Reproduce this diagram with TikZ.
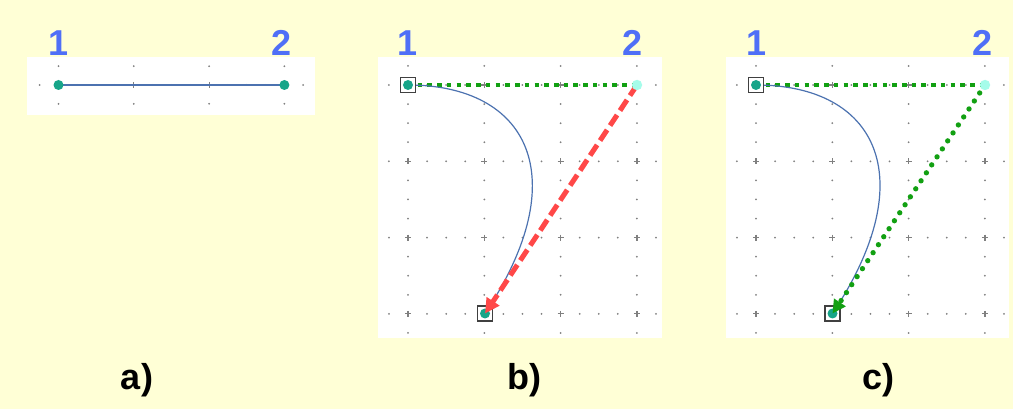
\documentclass[tikz,border=0pt]{standalone}
\usepackage{fontspec}
\setmainfont{Liberation Sans}
\usetikzlibrary{arrows.meta}
\definecolor{pagebg}{HTML}{FFFFD6}
\definecolor{ptteal}{HTML}{17A589}
\definecolor{ptcyan}{HTML}{A6FCEA}
\definecolor{curveblue}{HTML}{4C72B0}
\definecolor{tangreen}{HTML}{12A012}
\definecolor{tanred}{HTML}{FF4848}
\definecolor{lblblue}{HTML}{4F6FF7}
\definecolor{gridgray}{HTML}{808080}

\newcommand{\dotgrid}[4]{%
  \pgfmathtruncatemacro{\vlast}{4*#4+1}%
  \foreach \i in {0,...,3}{%
    \foreach \m in {-1,...,\vlast}{%
      \pgfmathtruncatemacro{\gridrem}{mod(\m+4,4)}%
      \ifnum\gridrem=0
        \draw[gridplus] ({#1+\i*#3},{#2+\m*#3/4}) +(-3,0) -- +(3,0) +(0,-3) -- +(0,3);
      \else
        \fill[gridgray] ({#1+\i*#3},{#2+\m*#3/4}) circle (0.75pt);
      \fi}}%
  \foreach \j in {0,...,#4}{%
    \foreach \m in {-1,...,13}{%
      \pgfmathtruncatemacro{\gridrem}{mod(\m+4,4)}%
      \ifnum\gridrem>0
        \fill[gridgray] ({#1+\m*#3/4},{#2+\j*#3}) circle (0.75pt);
      \fi}}}

\begin{document}
\begin{tikzpicture}[
  x=0.75pt, y=-0.75pt,
  panel/.style={fill=white},
  gridplus/.style={draw=gridgray, line width=0.9pt},
  anchorpt/.style={circle, fill=ptteal, inner sep=0pt, minimum size=7.5pt},
  ctrlpt/.style={circle, fill=ptcyan, inner sep=0pt, minimum size=7.8pt},
  selbox/.style={draw=black!75, fill=white, line width=1.4pt, inner sep=0pt, minimum size=11.2pt},
  curve/.style={draw=curveblue, line width=0.9pt},
  handle/.style={draw=tangreen, line width=3.6pt, dash pattern=on 3.4pt off 3.9pt},
  redtan/.style={draw=tanred, line width=3.8pt, dash pattern=on 9.5pt off 4pt, -{Triangle[length=11pt,width=11pt]}},
  greentan/.style={draw=tangreen, line width=4pt, line cap=round, dash pattern=on 0pt off 7.2pt, -{Triangle[length=10pt,width=10pt]}},
  numlbl/.style={text=lblblue, font=\fontsize{27}{30}\selectfont\bfseries, inner sep=0pt},
  caplbl/.style={font=\fontsize{27}{30}\selectfont\bfseries, inner sep=0pt}
]
\fill[pagebg] (0,0) rectangle (1013,409);
\fill[panel] (27,57) rectangle (315,115);
\fill[panel] (378,57) rectangle (662,338);
\fill[panel] (726,57) rectangle (1009,338);

\dotgrid{58.5}{85}{75.3}{0}
\dotgrid{408}{85}{76.3}{3}
\dotgrid{756}{85}{76.3}{3}

\coordinate (a1) at (58.5,85);
\coordinate (a2) at (284.4,85);
\coordinate (b1) at (408,85);
\coordinate (b2) at (637,85);
\coordinate (b3) at (485,313.5);
\coordinate (c1) at (756,85);
\coordinate (c2) at (985,85);
\coordinate (c3) at (832.5,313.5);

% a)
\draw[curve, line width=1.3pt] (a1) -- (a2);
\node[anchorpt] (a1dot) at (a1) {};
\node[anchorpt] (a2dot) at (a2) {};

% b)
\draw[handle] (b1) -- (b2);
\draw[curve] (b1) .. controls +(120,0) and +(91,-137) .. (b3);
\node[selbox] (b1box) at (b1) {};
\node[anchorpt] (b1dot) at (b1) {};
\node[selbox] (b3box) at (b3) {};
\node[anchorpt] (b3dot) at (b3) {};
\draw[redtan] (b2) -- (b3);
\node[ctrlpt] (b2dot) at (b2) {};

% c)
\draw[handle] (c1) -- (c2);
\draw[curve] (c1) .. controls +(120,0) and +(91,-137) .. (c3);
\node[selbox] (c1box) at (c1) {};
\node[anchorpt] (c1dot) at (c1) {};
\node[selbox] (c3box) at (c3) {};
\node[anchorpt] (c3dot) at (c3) {};
\draw[greentan] (c2) -- (c3);
\node[ctrlpt] (c2dot) at (c2) {};

\node[numlbl] (a1lbl) at (58.5,43) {1};
\node[numlbl] (a2lbl) at (282,43) {2};
\node[numlbl] (b1lbl) at (408,43) {1};
\node[numlbl] (b2lbl) at (633,43) {2};
\node[numlbl] (c1lbl) at (756,43) {1};
\node[numlbl] (c2lbl) at (982,43) {2};

\node[caplbl] (acap) at (137,380) {a)};
\node[caplbl] (bcap) at (524,380) {b)};
\node[caplbl] (ccap) at (878,380) {c)};
\end{tikzpicture}
\end{document}
